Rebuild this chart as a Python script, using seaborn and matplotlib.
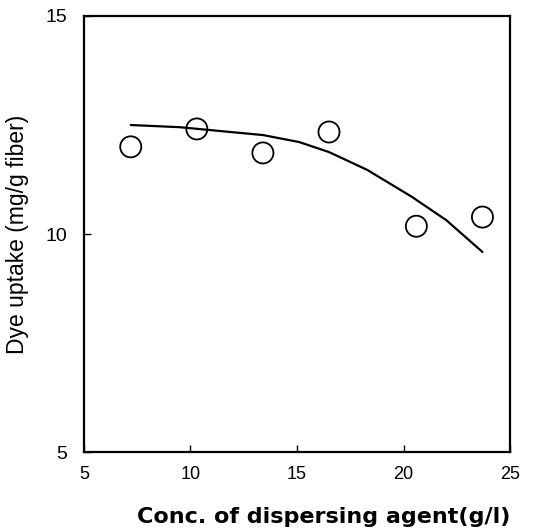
import matplotlib
matplotlib.use("Agg")
import matplotlib.pyplot as plt
import seaborn as sns
import pandas as pd

# measured points
conc = [7.2, 10.3, 13.4, 16.5, 20.6, 23.7]
uptake = [12.0, 12.41, 11.86, 12.34, 10.18, 10.39]

# fitted curve
curve_x = [7.2, 9.5, 13.4, 15.1, 16.5, 18.3, 20.4, 22.0, 23.7]
curve_y = [12.50, 12.45, 12.27, 12.11, 11.88, 11.47, 10.85, 10.32, 9.59]

x_ticks = [5, 10, 15, 20, 25]
y_ticks = [5, 10, 15]

sns.set_style("ticks")
plt.rcParams['font.family'] = ['Liberation Sans', 'DejaVu Sans']
plt.rcParams['text.color'] = 'black'
plt.rcParams['axes.labelcolor'] = 'black'

fig = plt.figure(figsize=(5.41, 5.32), dpi=100)
ax = fig.add_axes([0.155, 0.150, 0.788, 0.820])

pts = pd.DataFrame({"x": conc, "y": uptake})
cur = pd.DataFrame({"x": curve_x, "y": curve_y})

sns.lineplot(data=cur, x="x", y="y", ax=ax, color="black", linewidth=1.6, sort=True)
sns.scatterplot(data=pts, x="x", y="y", ax=ax, marker="o", s=230,
                facecolors="none", edgecolor="black", linewidth=1.3, zorder=3)

ax.set_xlim(5, 25)
ax.set_ylim(5, 15)
ax.set_xticks(x_ticks)
ax.set_yticks(y_ticks)
ax.tick_params(direction="in", length=5, width=1, labelsize=13, pad=10, colors="black")
ax.tick_params(axis="y", pad=12, labelsize=14)
for s in ax.spines.values():
    s.set_linewidth(1.6)
    s.set_color("black")

ax.set_xlabel("Conc. of dispersing agent(g/l)", fontsize=16, fontweight="bold",
              family=["DejaVu Sans"], color="black", loc="right", labelpad=17)
ax.set_ylabel("Dye uptake (mg/g fiber)", fontsize=16.5, fontweight="normal",
              family=["Liberation Sans"], color="black", labelpad=12)

fig.savefig("out.png", dpi=100)
